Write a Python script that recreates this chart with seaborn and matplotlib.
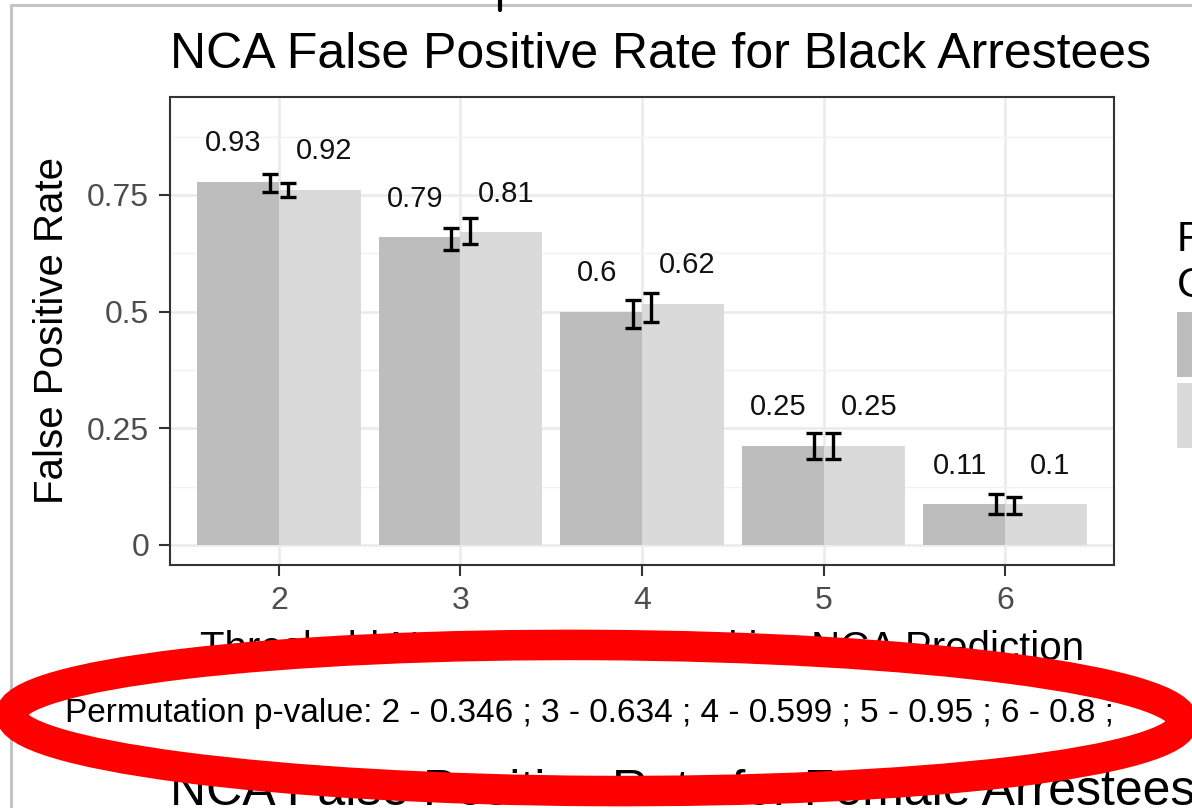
import numpy as np
import pandas as pd
import matplotlib.pyplot as plt
from matplotlib.patches import Ellipse
from matplotlib.lines import Line2D
from matplotlib.ticker import FixedLocator
import seaborn as sns

# data
thresholds = ["2", "3", "4", "5", "6"]
groups = ["Black", "Non-Black"]
fpr_black = [0.778, 0.659, 0.499, 0.212, 0.087]
fpr_other = [0.761, 0.670, 0.516, 0.212, 0.087]
ci_black_lo = [0.756, 0.632, 0.466, 0.184, 0.066]
ci_black_hi = [0.795, 0.680, 0.526, 0.240, 0.109]
ci_other_lo = [0.746, 0.646, 0.477, 0.184, 0.066]
ci_other_hi = [0.776, 0.700, 0.541, 0.240, 0.103]
label_black = ["0.93", "0.79", "0.6", "0.25", "0.11"]
label_other = ["0.92", "0.81", "0.62", "0.25", "0.1"]
pvalues = [0.346, 0.634, 0.599, 0.95, 0.8]

df = pd.DataFrame({
    "threshold": thresholds * 2,
    "group": [groups[0]] * 5 + [groups[1]] * 5,
    "fpr": fpr_black + fpr_other,
})

sns.set_theme(style="white")
plt.rcParams["font.family"] = ["Liberation Sans", "DejaVu Sans"]
plt.rcParams["text.color"] = "black"

fig = plt.figure(figsize=(11.92, 8.08), dpi=100)
ax = fig.add_axes([170 / 1192, 1 - 565 / 808, 944 / 1192, 468 / 808])

sns.barplot(data=df, x="threshold", y="fpr", hue="group", order=thresholds,
            hue_order=groups, palette=["#BDBDBD", "#DADADA"], width=0.9,
            gap=0, saturation=1, errorbar=None, linewidth=0, ax=ax, zorder=2)

pos = np.arange(len(thresholds))
for off, lo, hi in [(-0.05, ci_black_lo, ci_black_hi), (0.05, ci_other_lo, ci_other_hi)]:
    lo = np.array(lo)
    hi = np.array(hi)
    mid = (lo + hi) / 2
    ax.errorbar(pos + off, mid, yerr=[mid - lo, hi - mid], fmt="none",
                ecolor="black", elinewidth=2.4, capsize=6, capthick=2.4, zorder=3)

for off, vals, labs in [(-0.25, fpr_black, label_black), (0.25, fpr_other, label_other)]:
    for i, (v, s) in enumerate(zip(vals, labs)):
        ax.text(i + off, v + 0.083, s, ha="center", va="center", fontsize=21,
                color="#111111", zorder=4)

ax.set_xlim(-0.6, 4.6)
ax.set_ylim(-0.043, 0.96)
ax.set_yticks([0, 0.25, 0.5, 0.75])
ax.set_yticklabels(["0", "0.25", "0.5", "0.75"])
ax.yaxis.set_minor_locator(FixedLocator([0.125, 0.375, 0.625, 0.875]))
ax.set_axisbelow(True)
ax.grid(True, which="major", color="#EBEBEB", linewidth=1.8)
ax.grid(True, which="minor", axis="y", color="#F2F2F2", linewidth=1.0)
ax.tick_params(axis="both", which="major", length=8, width=1.5, color="#333333",
               labelsize=23, labelcolor="#4D4D4D", pad=7, bottom=True, left=True)
ax.tick_params(which="minor", length=0)
for sp in ax.spines.values():
    sp.set_color("#333333")
    sp.set_linewidth(1.5)

ax.set_ylabel("False Positive Rate", fontsize=29, color="black")
ax.yaxis.label.set(ha="center", va="center")
ax.yaxis.set_label_coords(-0.125, 0.5)
ax.set_xlabel("Threshold NCA Score for Positive NCA Prediction", fontsize=29, color="black")
ax.xaxis.label.set(va="baseline")
ax.xaxis.set_label_coords(0.5, -0.203)

sns.move_legend(ax, loc="upper left", bbox_to_anchor=(1177 / 1192, 1 - 220 / 808),
                bbox_transform=fig.transFigure, frameon=False, title="Focal\nGroup",
                title_fontsize=30, fontsize=23, borderpad=0, borderaxespad=0,
                handlelength=1.0, handleheight=2.75, labelspacing=0.18, alignment="left")

fig.text(170 / 1192, 1 - 68 / 808, "NCA False Positive Rate for Black Arrestees",
         fontsize=36, ha="left", va="baseline", color="black")
ptxt = "Permutation p-value: " + " ".join(f"{t} - {p:g} ;" for t, p in zip(thresholds, pvalues))
fig.text(65 / 1192, 1 - 722 / 808, ptxt, fontsize=24, ha="left", va="baseline", color="black")
fig.text(170 / 1192, 1 - 805 / 808, "NCA False Positive Rate for Female Arrestees",
         fontsize=36, ha="left", va="baseline", color="black")

# screenshot frame and the red marker ellipse
fig.add_artist(Line2D([11 / 1192, 1], [1 - 4.5 / 808] * 2, transform=fig.transFigure,
                      color="#C4C4C4", linewidth=2.2))
fig.add_artist(Line2D([11 / 1192] * 2, [0, 1 - 4.5 / 808], transform=fig.transFigure,
                      color="#C4C4C4", linewidth=2.2))
fig.add_artist(Line2D([500 / 1192] * 2, [1, 1 - 10 / 808], transform=fig.transFigure,
                      color="black", linewidth=3))
fig.add_artist(Ellipse((597 / 1192, 1 - 718 / 808), 1172 / 1192, 146 / 808, angle=-0.5,
                       transform=fig.transFigure, fill=False, edgecolor="#FF0000",
                       linewidth=22, zorder=10))

fig.savefig("out.png", dpi=100)
